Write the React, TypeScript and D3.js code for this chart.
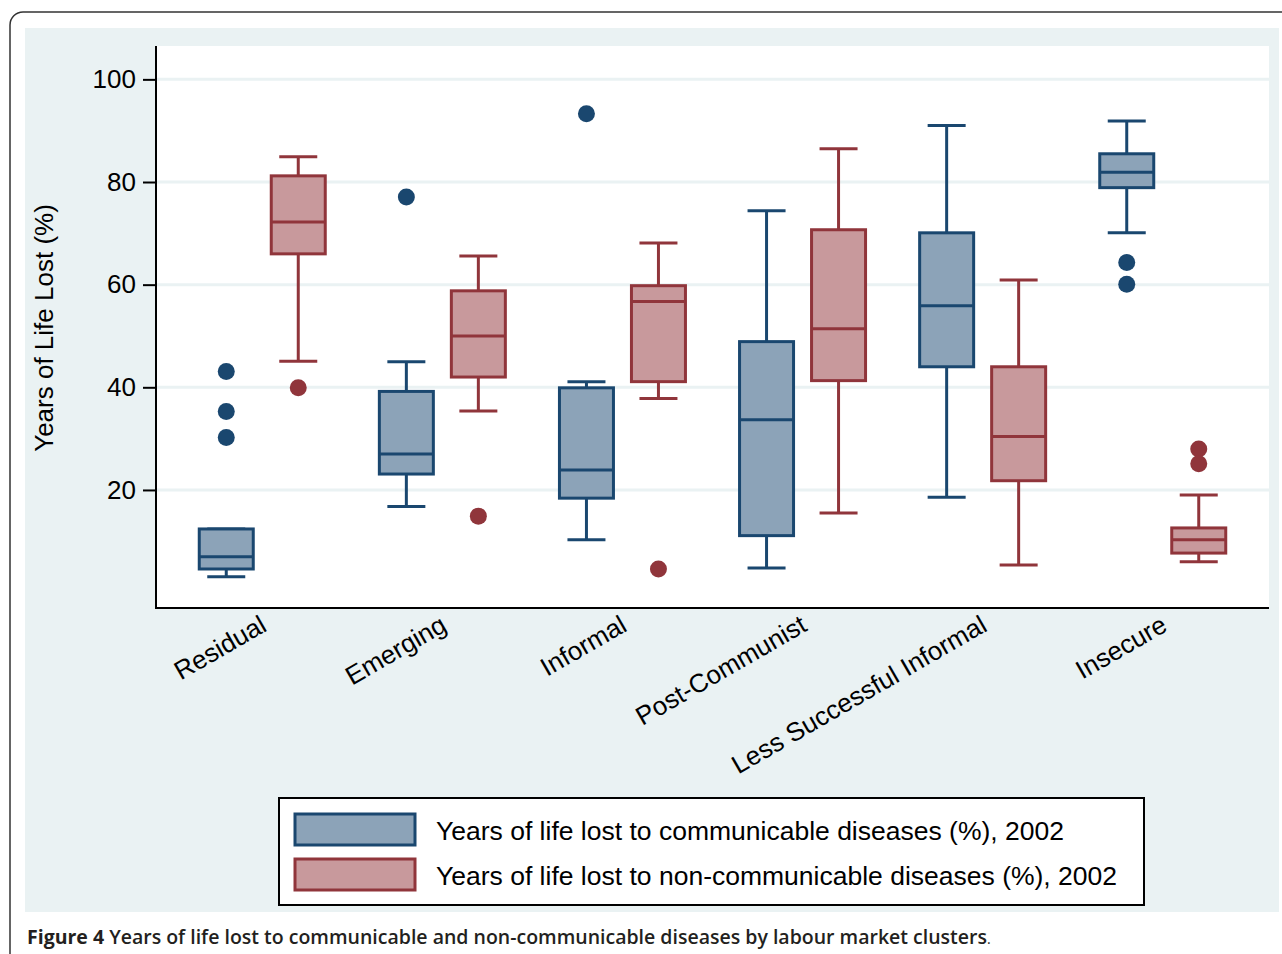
import React, { useEffect, useRef } from 'react';
import * as d3 from 'd3';

// labour market clusters
const categories = ['Residual', 'Emerging', 'Informal', 'Post-Communist', 'Less Successful Informal', 'Insecure'];

// communicable diseases: [lower whisker, q1, median, q3, upper whisker]
const communicable = [
  [3.1, 4.6, 7.0, 12.4, 12.4],
  [16.8, 23.1, 27.0, 39.2, 45.0],
  [10.3, 18.4, 23.9, 39.9, 41.1],
  [4.8, 11.1, 33.7, 48.9, 74.4],
  [18.6, 44.0, 55.9, 70.1, 91.0],
  [70.1, 78.9, 81.9, 85.5, 91.9],
];
const communicableOutliers = [[43.1, 35.3, 30.2], [77.1], [93.3], [], [], [64.3, 60.1]];

// non-communicable diseases
const nonCommunicable = [
  [45.1, 66.0, 72.2, 81.2, 84.9],
  [35.4, 42.0, 50.0, 58.8, 65.6],
  [37.8, 41.1, 56.7, 59.8, 68.1],
  [15.5, 41.3, 51.4, 70.7, 86.5],
  [5.4, 21.8, 30.4, 44.0, 60.9],
  [6.0, 7.7, 10.3, 12.6, 19.0],
];
const nonCommunicableOutliers = [[39.9], [14.9], [4.6], [], [], [28.0, 25.1]];

const yTicks = [20, 40, 60, 80, 100];
const legendLabels = [
  'Years of life lost to communicable diseases (%), 2002',
  'Years of life lost to non-communicable diseases (%), 2002',
];

const BG = '#eaf2f3';
const FONT = 'Liberation Sans, Arial, sans-serif';
const series = [
  { stats: communicable, outliers: communicableOutliers, stroke: '#1a476f', fill: '#8ca3b8', offset: -36 },
  { stats: nonCommunicable, outliers: nonCommunicableOutliers, stroke: '#90353b', fill: '#c8999c', offset: 36 },
];

export default function App() {
  const ref = useRef<SVGSVGElement>(null);

  useEffect(() => {
    const svg = d3.select(ref.current);
    svg.selectAll('*').remove();

    const left = 156, right = 1269, top = 46, bottom = 608;
    const y = d3.scaleLinear().domain([-3, 106.5]).range([bottom, top]);
    const x = d3.scalePoint().domain(categories).range([left, right]).padding(0.59);

    // outer frame and chart background
    svg.append('rect').attr('x', 10).attr('y', 12).attr('width', 1290).attr('height', 960)
      .attr('rx', 13).attr('fill', 'white').attr('stroke', '#333').attr('stroke-width', 1.5);
    svg.append('rect').attr('x', 25).attr('y', 28).attr('width', 1254).attr('height', 884).attr('fill', BG);
    svg.append('rect').attr('x', left).attr('y', top).attr('width', right - left).attr('height', bottom - top).attr('fill', 'white');

    // grid
    svg.append('g').selectAll('line').data(yTicks).enter().append('line')
      .attr('x1', left).attr('x2', right)
      .attr('y1', (d) => y(d)).attr('y2', (d) => y(d))
      .attr('stroke', BG).attr('stroke-width', 3);

    // y axis
    const yAxis = svg.append('g').attr('transform', 'translate(' + left + ',0)')
      .call(d3.axisLeft(y).tickValues(yTicks).tickSize(13).tickPadding(7));
    yAxis.select('.domain').remove();
    yAxis.selectAll('line').attr('stroke', 'black').attr('stroke-width', 2);
    yAxis.selectAll('text').attr('font-family', FONT)
      .attr('font-size', 26).attr('fill', 'black');
    svg.append('line').attr('x1', left).attr('x2', left).attr('y1', top).attr('y2', bottom + 1)
      .attr('stroke', 'black').attr('stroke-width', 2);
    svg.append('line').attr('x1', left).attr('x2', right).attr('y1', bottom).attr('y2', bottom)
      .attr('stroke', 'black').attr('stroke-width', 2);

    svg.append('text')
      .attr('transform', 'translate(53,' + 328 + ') rotate(-90)')
      .attr('text-anchor', 'middle')
      .attr('font-family', FONT).attr('font-size', 26)
      .text('Years of Life Lost (%)');

    // x labels
    svg.append('g').selectAll('text').data(categories).enter().append('text')
      .attr('transform', (d) => 'translate(' + ((x(d) as number) + 6) + ',' + 630 + ') rotate(-30)')
      .attr('text-anchor', 'end')
      .attr('font-family', FONT).attr('font-size', 26)
      .text((d) => d);

    // boxes
    const bw = 54, cw = 38;
    series.forEach((s) => {
      const g = svg.append('g');
      categories.forEach((c, i) => {
        const cx = (x(c) as number) + s.offset;
        const [lo, q1, med, q3, hi] = s.stats[i];
        const line = (x1: number, y1: number, x2: number, y2: number) =>
          g.append('line').attr('x1', x1).attr('x2', x2).attr('y1', y1).attr('y2', y2)
            .attr('stroke', s.stroke).attr('stroke-width', 3);
        line(cx, y(hi), cx, y(q3));
        line(cx, y(q1), cx, y(lo));
        line(cx - cw / 2, y(hi), cx + cw / 2, y(hi));
        line(cx - cw / 2, y(lo), cx + cw / 2, y(lo));
        g.append('rect').attr('x', cx - bw / 2).attr('y', y(q3))
          .attr('width', bw).attr('height', y(q1) - y(q3))
          .attr('fill', s.fill).attr('stroke', s.stroke).attr('stroke-width', 3);
        line(cx - bw / 2, y(med), cx + bw / 2, y(med));
        g.selectAll(null).data(s.outliers[i]).enter().append('circle')
          .attr('cx', cx).attr('cy', (d) => y(d)).attr('r', 8.5).attr('fill', s.stroke);
      });
    });

    // legend
    const lg = svg.append('g');
    lg.append('rect').attr('x', 279).attr('y', 798).attr('width', 865).attr('height', 107)
      .attr('fill', 'white').attr('stroke', 'black').attr('stroke-width', 2);
    series.forEach((s, i) => {
      lg.append('rect').attr('x', 295).attr('y', 814 + i * 45).attr('width', 120).attr('height', 31)
        .attr('fill', s.fill).attr('stroke', s.stroke).attr('stroke-width', 3);
      lg.append('text').attr('x', 436).attr('y', 840 + i * 45)
        .attr('font-family', FONT).attr('font-size', 26.5)
        .text(legendLabels[i]);
    });

    // caption
    const cap = svg.append('text').attr('x', 27).attr('y', 944)
      .attr('font-family', 'Open Sans, Liberation Sans, sans-serif').attr('font-size', 19.5)
      .attr('font-weight', 600).attr('fill', '#231f20');
    cap.append('tspan').attr('font-weight', 'bold').text('Figure 4');
    cap.append('tspan').text(' Years of life lost to communicable and non-communicable diseases by labour market clusters');
    cap.append('tspan').attr('font-size', 14).attr('font-weight', 400).text('.');
  }, []);

  return (
    <svg ref={ref} width={1282} height={954}
      style={{ position: 'absolute', left: 0, top: 0, background: 'white' }} />
  );
}
